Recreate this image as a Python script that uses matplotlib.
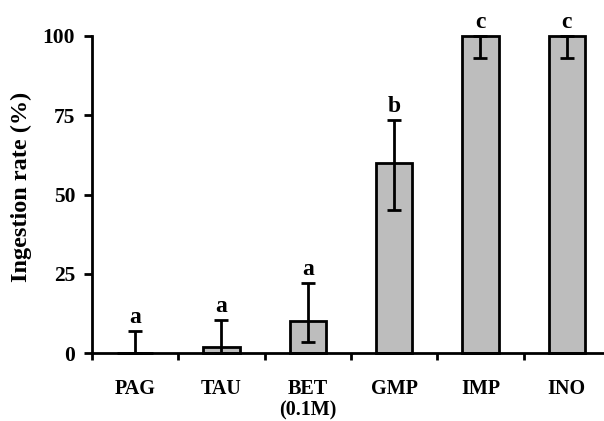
import matplotlib
matplotlib.use("Agg")
import matplotlib.pyplot as plt
import numpy as np

categories = ["PAG", "TAU", "BET\n(0.1M)", "GMP", "IMP", "INO"]
values = [0, 2, 10, 60, 100, 100]
err_low = [0, 2, 6.5, 15, 7, 7]
err_high = [7, 8.5, 12, 13.5, 0, 0]
letters = ["a", "a", "a", "b", "c", "c"]
yticks = [0, 25, 50, 75, 100]

plt.rcParams['font.family'] = ['Liberation Serif', 'DejaVu Serif']
plt.rcParams['font.weight'] = 'bold'

fig = plt.figure(figsize=(6.04, 4.21), dpi=100)
ax = fig.add_axes([0.152, 0.1615, 0.848, 0.753])

x = np.arange(len(categories))
ax.bar(x, values, width=0.42, color="#bdbdbd", edgecolor="black", linewidth=2, zorder=2, clip_on=False)
ax.errorbar(x, values, yerr=[err_low, err_high], fmt="none", ecolor="black",
            elinewidth=2, capsize=5, capthick=2, zorder=3, clip_on=False)
for xi, v, eh, lab in zip(x, values, err_high, letters):
    ax.text(xi, v + eh + 1.0, lab, ha="center", va="bottom", fontsize=17, fontweight="bold")

ax.set_xlim(-0.5, 5.43)
ax.set_ylim(0, 100)
ax.set_yticks(yticks)
ax.set_yticklabels([str(t) for t in yticks], fontsize=15.5, fontweight="bold")
ax.set_xticks(np.arange(len(categories)) - 0.5)
ax.set_xticklabels([])
ax.set_xticks(x, minor=True)
ax.set_xticklabels(categories, minor=True, fontsize=14.5, fontweight="bold", linespacing=1.1)
ax.tick_params(axis="x", which="minor", length=0, pad=19)
ax.tick_params(axis="x", which="major", direction="out", length=5, width=2)
ax.tick_params(axis="y", direction="out", length=6, width=2, pad=6)
for s in ["top", "right"]:
    ax.spines[s].set_visible(False)
for s in ["left", "bottom"]:
    ax.spines[s].set_linewidth(2)
ax.set_ylabel("Ingestion rate (%)", fontsize=17.5, fontweight="bold", va="center")
ax.yaxis.set_label_coords(-0.138, 0.524)

fig.savefig("out.png", dpi=100)
